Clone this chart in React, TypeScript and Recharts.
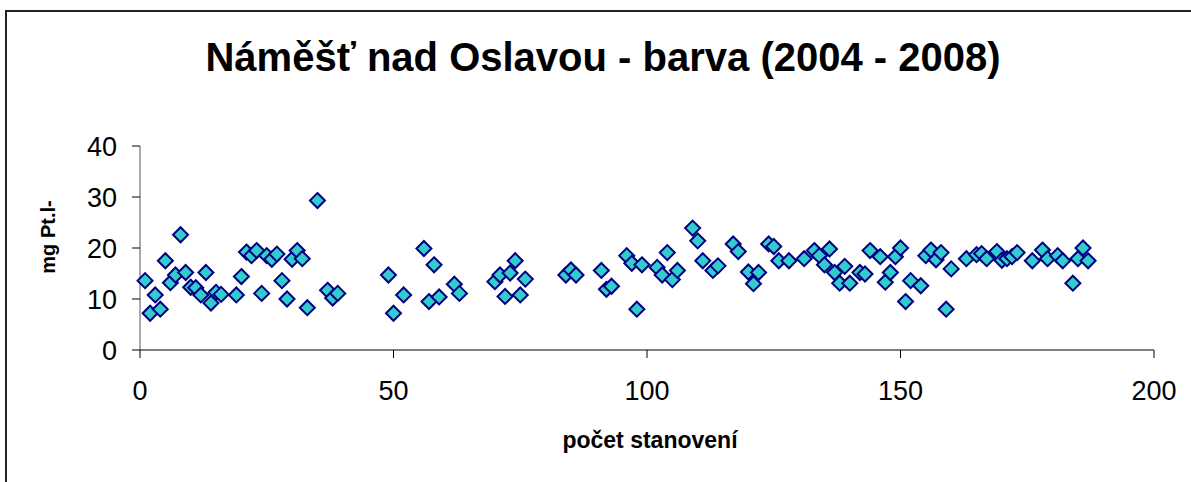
import { ScatterChart, Scatter, XAxis, YAxis } from 'recharts'

// počet stanovení (pořadí měření)
const pocet = [
  1, 2, 3, 4, 5, 6, 7, 8, 9, 10, 11, 12, 13, 14, 15, 16, 19, 20, 21, 22,
  23, 24, 25, 26, 27, 28, 29, 30, 31, 32, 33, 35, 37, 38, 39, 49, 50, 52, 56, 57,
  58, 59, 62, 63, 70, 71, 72, 73, 74, 75, 76, 84, 85, 86, 91, 92, 93, 96, 97, 98,
  99, 102, 103, 104, 105, 106, 109, 110, 111, 113, 114, 117, 118, 120, 121, 122, 124, 125, 126, 128,
  131, 133, 134, 135, 136, 137, 138, 139, 140, 142, 143, 144, 146, 147, 148, 149, 150, 151, 152, 154,
  155, 156, 157, 158, 159, 160, 163, 165, 166, 167, 169, 170, 171, 172, 173, 176, 178, 179, 181, 182,
  184, 185, 186, 187,
]

// barva [mg Pt/l]
const barva = [
  13.6, 7.2, 10.8, 8.0, 17.5, 13.2, 14.7, 22.6, 15.2, 12.3, 12.2, 10.8, 15.2, 9.2, 11.3, 10.9, 10.8, 14.4, 19.2, 18.5,
  19.5, 11.1, 18.5, 17.8, 18.8, 13.6, 10.0, 17.8, 19.5, 17.9, 8.3, 29.3, 11.7, 10.2, 11.1, 14.7, 7.2, 10.8, 19.9, 9.5,
  16.7, 10.4, 12.9, 11.1, 13.4, 14.7, 10.5, 15.1, 17.5, 10.8, 13.9, 14.7, 15.7, 14.7, 15.6, 11.9, 12.5, 18.5, 17.0, 8.0,
  16.7, 16.2, 14.7, 19.1, 13.8, 15.6, 23.9, 21.4, 17.5, 15.6, 16.5, 20.8, 19.3, 15.3, 13.0, 15.2, 20.8, 20.3, 17.5, 17.5,
  17.9, 19.5, 18.5, 16.7, 19.8, 15.2, 13.1, 16.4, 13.1, 15.2, 14.9, 19.5, 18.3, 13.3, 15.2, 18.3, 20.0, 9.5, 13.6, 12.6,
  18.5, 19.6, 17.7, 19.1, 8.0, 15.9, 17.9, 18.7, 18.9, 17.9, 19.3, 17.6, 17.9, 18.3, 19.1, 17.5, 19.6, 17.9, 18.5, 17.5,
  13.1, 17.9, 20.0, 17.5,
]

const xTicks = [0, 50, 100, 150, 200]
const yTicks = [0, 10, 20, 30, 40]

const data = pocet.map((x, i) => ({ x, y: barva[i] }))

const FONT = 'Arial, "Liberation Sans", sans-serif'

const Diamond = ({ cx, cy }: any) => (
  <polygon
    points={`${cx},${cy - 7.5} ${cx + 7.5},${cy} ${cx},${cy + 7.5} ${cx - 7.5},${cy}`}
    fill="#33CCCC"
    stroke="#000080"
    strokeWidth={2}
  />
)

export default function App() {
  return (
    <div style={{ position: 'absolute', left: 0, top: 0, width: 1191, height: 482, overflow: 'hidden', background: '#fff', fontFamily: FONT }}>
      <div style={{ position: 'absolute', left: 5, top: 10, width: 1200, height: 490, borderTop: '2px solid #222', borderLeft: '2px solid #222' }} />
      <ScatterChart width={1191} height={482} margin={{ top: 146, right: 37, bottom: 82, left: 80 }}>
        <XAxis
          type="number"
          dataKey="x"
          domain={[0, 200]}
          ticks={xTicks}
          height={50}
          axisLine={{ stroke: '#808080', strokeWidth: 2 }}
          tickLine={{ stroke: '#000', strokeWidth: 1 }}
          tickSize={8}
          tickMargin={23}
          tick={{ fontSize: 27, fill: '#000', fontFamily: FONT }}
        />
        <YAxis
          type="number"
          dataKey="y"
          domain={[0, 40]}
          ticks={yTicks}
          width={60}
          axisLine={{ stroke: '#555', strokeWidth: 1 }}
          tickLine={{ stroke: '#000', strokeWidth: 1 }}
          tickSize={8}
          tickMargin={15}
          tick={{ fontSize: 27, fill: '#000', fontFamily: FONT }}
        />
        <Scatter data={data} shape={<Diamond />} isAnimationActive={false} />
      </ScatterChart>
      <svg width={1191} height={482} style={{ position: 'absolute', left: 0, top: 0, pointerEvents: 'none' }}>
        <text x={603} y={71} textAnchor="middle" fontFamily={FONT} fontWeight="bold" fontSize={40} fill="#000">
          Náměšť nad Oslavou - barva (2004 - 2008)
        </text>
        <text x={650} y={448} textAnchor="middle" fontFamily={FONT} fontWeight="bold" fontSize={23} fill="#000">
          počet stanovení
        </text>
        <text x={55} y={237} textAnchor="middle" transform="rotate(-90 55 237)" fontFamily={FONT} fontWeight="bold" fontSize={20} fill="#000">
          mg Pt.l-
        </text>
      </svg>
    </div>
  )
}
